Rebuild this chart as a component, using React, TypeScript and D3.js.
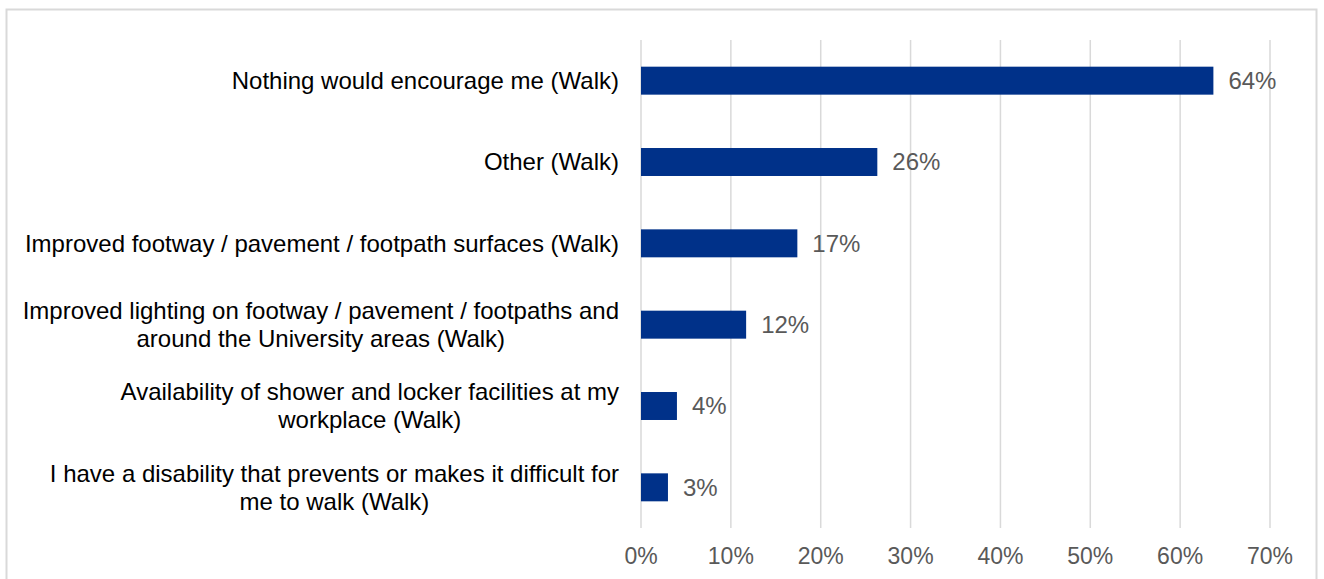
import { useEffect, useRef } from 'react';
import * as d3 from 'd3';

const categories = [
  "Nothing would encourage me (Walk)",
  "Other (Walk)",
  "Improved footway / pavement / footpath surfaces (Walk)",
  "Improved lighting on footway / pavement / footpaths and|around the University areas (Walk)",
  "Availability of shower and locker facilities at my|workplace (Walk)",
  "I have a disability that prevents or makes it difficult for|me to walk (Walk)",
];
const values = [0.637, 0.263, 0.174, 0.117, 0.04, 0.03];
const valueLabels = ["64%", "26%", "17%", "12%", "4%", "3%"];
const xTicks = [0, 0.1, 0.2, 0.3, 0.4, 0.5, 0.6, 0.7];

export default function App() {
  const svgRef = useRef<SVGSVGElement>(null);

  useEffect(() => {
    if (!svgRef.current) return;
    const svg = d3.select(svgRef.current);
    svg.selectAll("*").remove();

    const W = 1324, H = 579;
    const font = "'Liberation Sans', Arial, sans-serif";

    // chart frame
    svg.append("rect")
      .attr("x", 6.5).attr("y", 9.5)
      .attr("width", 1310).attr("height", 600)
      .attr("fill", "#fff")
      .attr("stroke", "#d9d9d9")
      .attr("stroke-width", 2);

    const x = d3.scaleLinear().domain([0, 0.7]).range([641, 1270]);
    const y = d3.scaleBand<number>()
      .domain(d3.range(categories.length))
      .range([40, 528])
      .paddingInner(0.656)
      .paddingOuter(0.328);

    // gridlines
    svg.append("g")
      .selectAll("line")
      .data(xTicks)
      .enter().append("line")
      .attr("x1", d => x(d)).attr("x2", d => x(d))
      .attr("y1", 40).attr("y2", 528)
      .attr("stroke", "#d9d9d9")
      .attr("stroke-width", 1.5);

    // x tick labels
    svg.append("g")
      .selectAll("text")
      .data(xTicks)
      .enter().append("text")
      .attr("x", d => x(d))
      .attr("y", 564)
      .attr("text-anchor", "middle")
      .style("font-family", font)
      .style("font-size", "23px")
      .attr("fill", "#595959")
      .text(d => `${Math.round(d * 100)}%`);

    // bars
    svg.append("g")
      .selectAll("rect")
      .data(values)
      .enter().append("rect")
      .attr("x", x(0))
      .attr("y", (_, i) => y(i)!)
      .attr("width", d => x(d) - x(0))
      .attr("height", y.bandwidth())
      .attr("fill", "#003189");

    // value labels
    svg.append("g")
      .selectAll("text")
      .data(values)
      .enter().append("text")
      .attr("x", d => x(d) + 15)
      .attr("y", (_, i) => y(i)! + y.bandwidth() / 2)
      .attr("dy", "0.35em")
      .style("font-family", font)
      .style("font-size", "24px")
      .attr("fill", "#595959")
      .text((_, i) => valueLabels[i]);

    // category labels
    const cat = svg.append("g")
      .selectAll("text")
      .data(categories)
      .enter().append("text")
      .attr("text-anchor", "middle")
      .style("font-family", font)
      .style("font-size", "24px")
      .attr("fill", "#000");

    cat.each(function (d, i) {
      const lines = d.split("|");
      const t = d3.select(this);
      const cy = y(i)! + y.bandwidth() / 2;
      const lh = 28;
      lines.forEach((ln, j) => {
        t.append("tspan")
          .attr("x", 0)
          .attr("y", cy + (j - (lines.length - 1) / 2) * lh)
          .attr("dy", "0.35em")
          .text(ln);
      });
    });

    // right-align each label block to the axis, lines centred within it
    cat.each(function () {
      const node = this as SVGTextElement;
      const bb = node.getBBox();
      const cx = 619 - bb.width / 2;
      d3.select(node).selectAll("tspan").attr("x", cx);
    });

    svg.attr("width", W).attr("height", H);
  }, []);

  return (
    <div style={{ position: "absolute", left: 0, top: 0 }}>
      <svg ref={svgRef} style={{ display: "block" }}></svg>
    </div>
  );
}
